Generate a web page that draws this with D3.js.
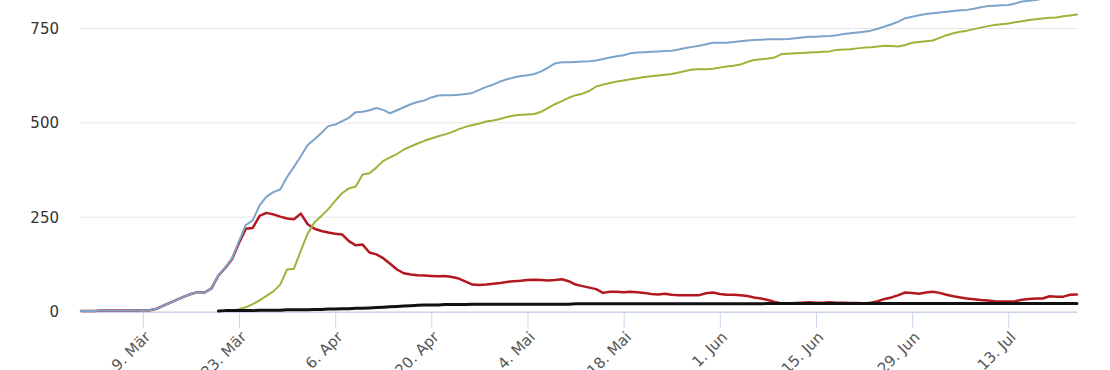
<!DOCTYPE html>
<html>
<head>
<meta charset="utf-8">
<script src="https://cdn.jsdelivr.net/npm/d3@7"></script>
<style>
  body { margin: 0; background: #fff; }
  svg { display: block; }
  .axis text { fill: #555; }
  .axis.y text { fill: #333; }
  .axis.x .domain, .axis.x line { stroke: #ccd6eb; }
  .axis.y .domain { display: none; }
  .axis.y line { stroke: #e6e6e6; }
  .series { fill: none; stroke-linejoin: round; stroke-linecap: round; }
</style>
</head>
<body>
<svg id="chart" width="1110" height="370"></svg>
<script>
// first day of the series, one value per day after that
const startDate = "2020-02-29";

const tickDates = ["2020-03-09", "2020-03-23", "2020-04-06", "2020-04-20", "2020-05-04",
  "2020-05-18", "2020-06-01", "2020-06-15", "2020-06-29", "2020-07-13"];
const monthNames = ["Jan", "Feb", "Mär", "Apr", "Mai", "Jun", "Jul", "Aug", "Sep", "Okt", "Nov", "Dez"];
const yTicks = [0, 250, 500, 750];

// total cases
const total = [0, 0, 0, 1, 1, 1, 1, 1, 1, 2,
  2, 6, 14, 22, 30, 38, 45, 50, 49, 60,
  95, 115, 140, 185, 228, 240, 280, 303, 315, 322,
  355, 382, 410, 440, 455, 472, 490, 494, 503, 512,
  527, 528, 532, 538, 533, 524, 532, 540, 548, 554,
  558, 566, 571, 572, 572, 573, 575, 578, 586, 594,
  600, 608, 614, 619, 623, 625, 628, 635, 645, 656,
  659, 659, 660, 661, 662, 664, 668, 672, 675, 678,
  683, 685, 686, 687, 688, 689, 690, 693, 697, 700,
  703, 707, 711, 711, 711, 713, 715, 717, 718, 719,
  720, 720, 720, 721, 723, 725, 727, 727, 728, 729,
  731, 734, 736, 738, 740, 743, 748, 754, 760, 767,
  776, 780, 784, 787, 789, 791, 793, 795, 797, 798,
  801, 805, 808, 809, 810, 811, 815, 820, 822, 824,
  828, 831, 834, 836, 838, 840];

// recovered, starts 22 days in
const recoveredStart = 22;
const recovered = [1, 5, 10, 18, 28, 40, 52, 70,
  110, 112, 160, 205, 235, 252, 270, 292, 312, 325,
  330, 362, 365, 380, 398, 407, 416, 428, 436, 444,
  451, 457, 463, 468, 474, 482, 488, 493, 497, 502,
  505, 509, 514, 518, 520, 521, 522, 528, 538, 548,
  556, 565, 572, 576, 583, 595, 600, 604, 608, 611,
  614, 617, 620, 622, 624, 626, 628, 632, 636, 640,
  641, 641, 642, 645, 648, 650, 653, 660, 665, 667,
  669, 672, 681, 682, 683, 684, 685, 686, 687, 688,
  692, 693, 694, 696, 698, 699, 701, 703, 702, 701,
  705, 711, 713, 715, 717, 724, 731, 736, 740, 743,
  747, 751, 755, 758, 760, 762, 765, 768, 771, 773,
  775, 777, 778, 781, 783, 786];

// active cases
const active = [0, 0, 0, 1, 1, 1, 1, 1, 1, 2,
  2, 6, 14, 22, 30, 38, 45, 50, 49, 60,
  94, 114, 138, 180, 218, 220, 252, 260, 256, 250,
  245, 243, 258, 230, 218, 212, 208, 205, 203, 185,
  174, 176, 155, 150, 140, 125, 110, 100, 97, 95,
  94, 93, 92, 93, 90, 86, 78, 70, 69, 70,
  72, 74, 77, 79, 80, 82, 83, 82, 81, 82,
  84, 79, 70, 66, 62, 58, 48, 51, 51, 50,
  51, 50, 48, 45, 44, 46, 43, 42, 42, 42,
  42, 47, 49, 45, 43, 43, 42, 40, 36, 33,
  29, 24, 20, 20, 21, 22, 23, 22, 22, 23,
  22, 22, 21, 21, 20, 22, 26, 32, 36, 42,
  49, 48, 46, 49, 51, 48, 43, 39, 36, 33,
  31, 29, 28, 26, 25, 25, 26, 30, 32, 33,
  33, 39, 38, 38, 43, 44];

// deaths, starts 20 days in
const deathsStart = 20;
const deaths = [0, 1, 1, 1, 1, 1, 2, 2, 2, 2,
  3, 3, 3, 3, 4, 4, 5, 5, 6, 6,
  7, 7, 8, 9, 10, 11, 12, 13, 14, 15,
  16, 16, 16, 17, 17, 17, 17, 18, 18, 18,
  18, 18, 18, 18, 18, 18, 18, 18, 18, 18,
  18, 18, 19, 19, 19, 19, 19, 19, 19, 19,
  19, 19, 19, 19, 19, 19, 19, 19, 19, 19,
  19, 19, 19, 19, 19, 19, 19, 19, 19, 19,
  20, 20, 20, 20, 20, 20, 20, 20, 20, 20,
  20, 20, 20, 20, 20, 20, 20, 20, 20, 20,
  20, 20, 20, 20, 20, 20, 20, 20, 20, 20,
  20, 20, 20, 20, 20, 20, 20, 20, 20, 20,
  20, 20, 20, 20, 20, 20];

const parseDate = d3.timeParse("%Y-%m-%d");

class lineplot {
    constructor(config) {
        this.rootId = config.rootId;
        this.data = config.data;
        this.dimension = config.dimension;
        this.padding = config.padding;

        this.updateDimensions();
        this.createScale();
        this.render();
    }
    updateDimensions() {
        this.dimension.innerWidth = this.dimension.width - this.padding.left - this.padding.right;
        this.dimension.innerHeight = this.dimension.height - this.padding.top - this.padding.bottom;
    }
    createScale() {
        const start = parseDate(startDate);
        this.scale = {
            x: d3.scaleTime()
                .domain([start, d3.timeDay.offset(start, total.length - 1)])
                .range([0, this.dimension.innerWidth]),
            y: d3.scaleLinear().domain([0, 750]).range([this.dimension.innerHeight, 0])
        };
    }
    render() {
        const self = this;
        const svg = d3.select(`#${self.rootId}`)
            .append("g")
            .attr("id", `${self.rootId}-g`)
            .attr("transform", `translate(${self.padding.left}, ${self.padding.top})`);

        self._axis(svg);

        const line = d3.line()
            .x(d => self.scale.x(d.date))
            .y(d => self.scale.y(d.value));

        svg.selectAll(".series")
            .data(self.data)
            .enter()
            .append("path")
            .attr("class", "series")
            .attr("stroke", d => d.color)
            .attr("stroke-width", d => d.width)
            .attr("d", d => line(d.points));
    }
    _axis(svg) {
        const self = this;
        const font = "DejaVu Sans, Verdana, sans-serif";

        const y = d3.axisLeft(self.scale.y)
            .tickValues(yTicks)
            .tickSizeInner(-self.dimension.innerWidth)
            .tickSizeOuter(0)
            .tickPadding(22);
        svg.append("g")
            .attr("class", "axis y")
            .call(y)
            .attr("font-family", font)
            .attr("font-size", 15)
            .selectAll("text")
            .attr("dy", "0.36em");

        const x = d3.axisBottom(self.scale.x)
            .tickValues(tickDates.map(parseDate))
            .tickSizeInner(16)
            .tickSizeOuter(0)
            .tickFormat(d => `${d.getDate()}. ${monthNames[d.getMonth()]}`);
        svg.append("g")
            .attr("class", "axis x")
            .attr("transform", `translate(0, ${self.dimension.innerHeight + 1})`)
            .call(x)
            .attr("font-family", font)
            .attr("font-size", 15)
            .selectAll("text")
            .attr("x", 0)
            .attr("y", 0)
            .attr("dy", 0)
            .attr("text-anchor", "end")
            .attr("transform", "translate(8, 26) rotate(-45)");
    }
}

const start = parseDate(startDate);
const toPoints = (values, offset) => values.map((v, i) => ({
    date: d3.timeDay.offset(start, offset + i),
    value: v
}));

new lineplot({
    rootId: "chart",
    data: [
        { name: "Aktive Fälle", color: "#b3181f", width: 2.5, points: toPoints(active, 0) },
        { name: "Fälle gesamt", color: "#7ca4ca", width: 2, points: toPoints(total, 0) },
        { name: "Genesen", color: "#9bb53a", width: 2, points: toPoints(recovered, recoveredStart) },
        { name: "Todesfälle", color: "#111", width: 3, points: toPoints(deaths, deathsStart) }
    ],
    dimension: { width: 1110, height: 370 },
    padding: { top: 28, right: 33, bottom: 59, left: 81 }
});
</script>
</body>
</html>
